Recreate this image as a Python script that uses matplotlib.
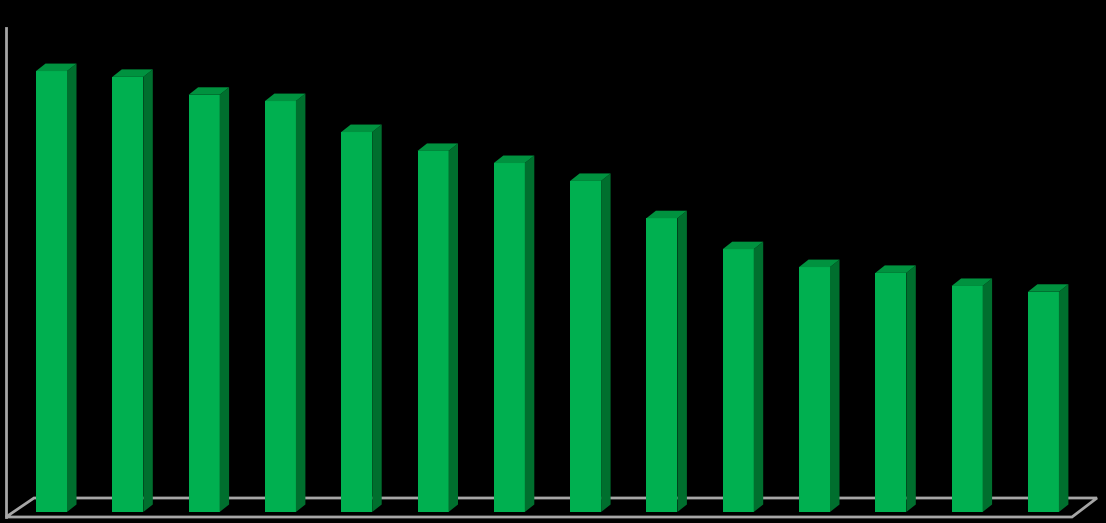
import matplotlib
matplotlib.use("Agg")
import matplotlib.pyplot as plt
from matplotlib.patches import Polygon
from matplotlib.lines import Line2D

categories = [f"C{i+1}" for i in range(14)]
values = [91.1, 89.9, 86.2, 84.9, 78.5, 74.6, 72.1, 68.4, 60.7, 54.3, 50.6, 49.4, 46.7, 45.5]

FRONT = "#00B050"
TOP = "#00923F"
SIDE = "#006F2E"
FLOOR = "#A6A6A6"

W, H, DPI = 1106, 523, 100
fig = plt.figure(figsize=(W / DPI, H / DPI), dpi=DPI, facecolor="black")

# axes placement in pixels (image coords, y downward)
left_px, right_px = 6, 1072
bottom_px, top_px = 512, 28
ax = fig.add_axes([left_px / W, (H - bottom_px) / H,
                   (right_px - left_px) / W, (bottom_px - top_px) / H])
ax.set_facecolor("black")
slot = 76.3
x0 = (left_px - 51.5) / slot
x1 = (right_px - 51.5) / slot
ax.set_xlim(x0, x1)
ax.set_ylim(0, 100)
ax.axis("off")

xs = list(range(len(categories)))
bw = 31 / slot
ax.bar(xs, values, width=bw, color=FRONT, zorder=3, linewidth=0)

fig.canvas.draw()
T = ax.transData
dx, dy = 9.5, 7.5  # depth offset in pixels (right, up)

for x, v in zip(xs, values):
    (xl, yb) = T.transform((x - bw / 2, 0))
    (xr, yt) = T.transform((x + bw / 2, v))
    side = Polygon([(xr, yb), (xr, yt), (xr + dx, yt + dy), (xr + dx, yb + dy)],
                   closed=True, transform=None, facecolor=SIDE, edgecolor="none",
                   zorder=3)
    top = Polygon([(xl, yt), (xr, yt), (xr + dx, yt + dy), (xl + dx, yt + dy)],
                  closed=True, transform=None, facecolor=TOP, edgecolor="none",
                  zorder=3)
    fig.add_artist(side)
    fig.add_artist(top)

# floor and wall lines (pixel coordinates from the chart frame)
def px(x, y):
    return (x, H - y)

floor = [px(6, 517), px(34, 498), px(1097, 498), px(1072, 517)]
fig.add_artist(Polygon(floor, closed=True, transform=None, facecolor="none",
                       edgecolor=FLOOR, linewidth=2, zorder=1))
fig.add_artist(Line2D([6, 6], [H - 517, H - 28], transform=None,
                      color=FLOOR, linewidth=2, zorder=1))

# redraw bars above floor
for p in ax.patches:
    p.set_zorder(5)
ax.set_zorder(2)

fig.savefig("out.png", dpi=DPI, facecolor="black")
